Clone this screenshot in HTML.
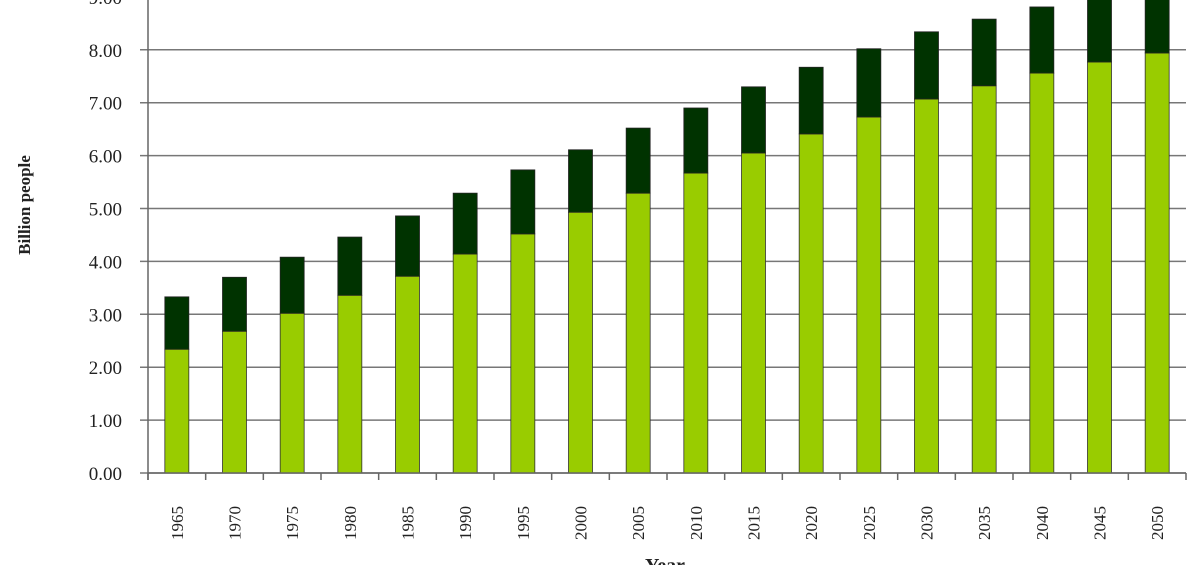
<!DOCTYPE html>
<html><head><meta charset="utf-8"><style>
html,body{margin:0;padding:0;background:#fff;width:1200px;height:565px;overflow:hidden}
svg text{font-family:"Liberation Serif",serif;fill:#222}
</style></head><body>
<svg id="chart" width="1200" height="565" viewBox="0 0 1200 565" xmlns="http://www.w3.org/2000/svg">
<g id="grid"></g>
<g id="bars"></g>
<g id="axes"></g>
<text transform="translate(30,205) rotate(-90)" text-anchor="middle" font-size="17" font-weight="bold">Billion people</text>
<text x="665" y="572" text-anchor="middle" font-size="20" font-weight="bold">Year</text>
</svg>
<script>
const years = ["1965","1970","1975","1980","1985","1990","1995","2000","2005","2010","2015","2020","2025","2030","2035","2040","2045","2050"];
const lowerValues = [2.34,2.68,3.02,3.36,3.72,4.14,4.52,4.93,5.29,5.67,6.05,6.41,6.73,7.07,7.32,7.56,7.77,7.94];
const totalValues = [3.33,3.70,4.08,4.46,4.86,5.29,5.73,6.11,6.52,6.90,7.30,7.67,8.02,8.34,8.58,8.81,9.12,9.22];
const yTicks = [0,1,2,3,4,5,6,7,8,9];
const NS="http://www.w3.org/2000/svg";
const x0=148,x1=1186,y0=473,unit=52.9;
const band=(x1-x0)/years.length, bw=24;
function yS(v){return y0-v*unit;}
function xS(i){return x0+band*(i+0.5);}
function mk(t,a,p){const e=document.createElementNS(NS,t);for(const k in a)e.setAttribute(k,a[k]);p.appendChild(e);return e;}
const grid=document.getElementById('grid'),bars=document.getElementById('bars'),axes=document.getElementById('axes');
yTicks.forEach(v=>{
  const l=mk('line',{x1:x0-8,x2:x1,y1:yS(v),y2:yS(v),stroke:'#777','stroke-width':1.5},grid);
  
  
  const t=mk('text',{x:122,y:yS(v)+7,'text-anchor':'end','font-size':19},axes);
  t.textContent=v.toFixed(2);
  
  
});
years.forEach((yr,i)=>{
  const cx=xS(i);
  const g=mk('rect',{x:cx-bw/2,y:yS(lowerValues[i]),width:bw,height:yS(0)-yS(lowerValues[i]),fill:'#99cc00',stroke:'#333','stroke-width':0.8},bars);
  
  
  const d=mk('rect',{x:cx-bw/2,y:yS(totalValues[i]),width:bw,height:yS(lowerValues[i])-yS(totalValues[i]),fill:'#003300',stroke:'#222','stroke-width':0.8},bars);
  
  
  const t=mk('text',{transform:`translate(${cx+6},540) rotate(-90)`,'font-size':17},axes);
  t.textContent=yr;
  
  
});
for(let i=0;i<=years.length;i++){
  const tk=mk('line',{x1:x0+band*i,x2:x0+band*i,y1:y0,y2:y0+7,stroke:'#666','stroke-width':1.5},axes);
  
  
}
const ya=mk('line',{x1:x0,x2:x0,y1:0,y2:y0+7,stroke:'#666','stroke-width':1.5},axes);


const xa=mk('line',{x1:x0,x2:x1,y1:y0,y2:y0,stroke:'#666','stroke-width':1.5},axes);


</script>
</body></html>
